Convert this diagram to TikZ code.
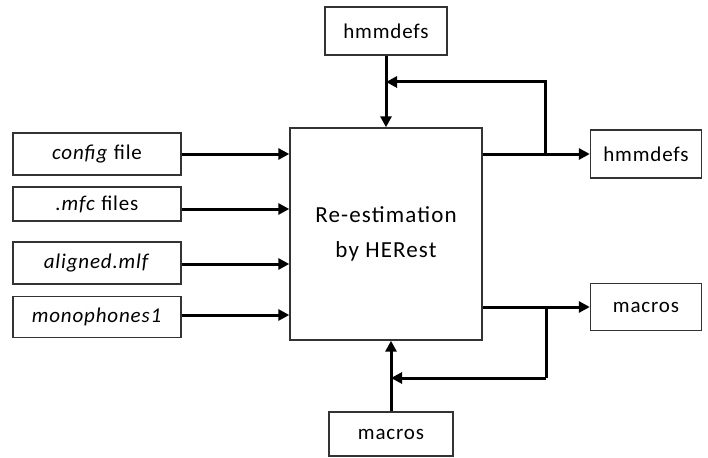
\documentclass[tikz,border=0pt]{standalone}
\usepackage{fontspec}
\setmainfont{Carlito}[LetterSpace=4]
\usetikzlibrary{arrows.meta}
\begin{document}
\begin{tikzpicture}[x=1pt,y=-1pt,
  box/.style={draw=black!80,line width=1.4pt,fill=white,inner sep=0pt,font=\fontsize{21}{25}\selectfont},
  flow/.style={line width=3pt,-{Triangle[length=11pt,width=11pt]}},
  wire/.style={line width=3pt}]
\useasboundingbox (0,0) rectangle (708,457);
% input files
\node[box,minimum width=168pt,minimum height=42pt] (cfg) at (97,154) {\textit{config} file};
\node[box,minimum width=168pt,minimum height=34pt] (mfc) at (97,204) {\textit{.mfc} files};
\node[box,minimum width=168pt,minimum height=42pt] (mlf) at (97,263) {\textit{aligned.mlf}};
\node[box,minimum width=168pt,minimum height=41pt] (mono) at (97,317) {\textit{monophones1}};
% HERest
\node[box,minimum width=192pt,minimum height=212pt,align=center,
      font=\fontsize{23}{35}\selectfont\addfontfeature{LetterSpace=5}] (her) at (386,234) {Re-estimation\\by HERest};
% models in and out
\node[box,minimum width=122pt,minimum height=48pt] (hin) at (386,31) {hmmdefs};
\node[box,minimum width=111pt,minimum height=48pt] (hout) at (646,154) {hmmdefs};
\node[box,minimum width=111pt,minimum height=47pt] (mout) at (646,307) {macros};
\node[box,minimum width=124pt,minimum height=44pt] (min) at (391,434) {macros};
% inputs into HERest
\draw[flow] (cfg.east) -- (her.west |- cfg.east);
\draw[flow] (mfc.east |- 0,209) -- (her.west |- 0,209);
\draw[flow] (mlf.east |- 0,264) -- (her.west |- 0,264);
\draw[flow] (mono.east |- 0,315) -- (her.west |- 0,315);
% hmmdefs loop
\draw[flow] (hin.south) -- (her.north -| hin.south);
\draw[flow] (her.east |- hout.west) -- (hout.west);
\coordinate (hsplit) at (545,154);
\coordinate (hjoin) at (386,82);
\draw[wire] (hsplit) -- (545,82) -- ++(-148,0);
\draw[flow] (545,82) -- (hjoin);
% macros loop
\draw[flow] (her.east |- mout.west) -- (mout.west);
\draw[flow] (min.north) -- (her.south -| min.north);
\coordinate (msplit) at (546,307);
\coordinate (mjoin) at (391,378);
\draw[wire] (msplit) -- (546,378);
\draw[flow] (546,378) -- (mjoin);
\end{tikzpicture}
\end{document}
